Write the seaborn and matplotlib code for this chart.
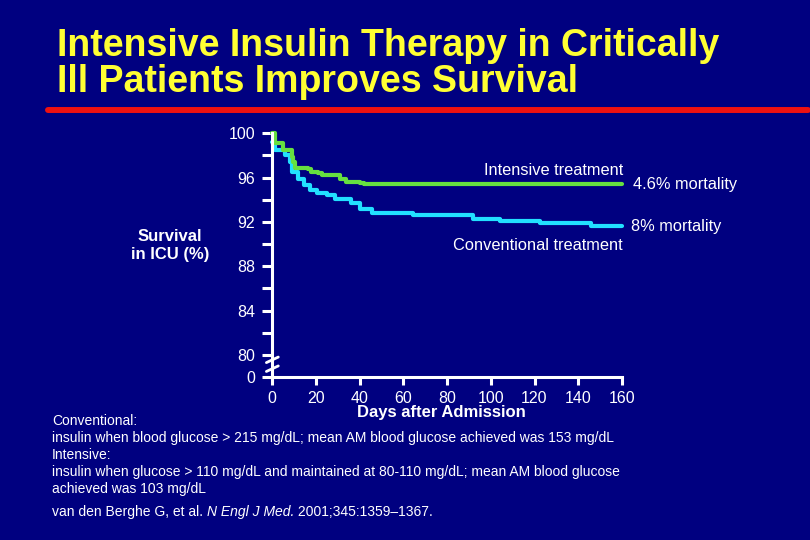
import numpy as np
import pandas as pd
import matplotlib
matplotlib.use("Agg")
import matplotlib.pyplot as plt
from matplotlib.lines import Line2D
import matplotlib.transforms as mtransforms
import seaborn as sns

# survival curves (days, % survival in ICU)
intensive_days = [0, 0.6, 1.4, 5, 9, 9.6, 10.5, 16.5, 18, 21, 22.7, 31, 34, 40, 42, 160]
intensive_surv = [100, 100, 99.1, 98.5, 97.9, 97.4, 96.9, 96.8, 96.5, 96.4, 96.2, 95.9, 95.6, 95.5, 95.4, 95.4]

conv_days = [0, 0.6, 1.4, 5.9, 8, 9, 12, 14.5, 17.5, 20.5, 25, 29, 36, 40, 45.5, 64.5, 92, 104, 122.5, 146, 160]
conv_surv = [99.2, 98.9, 98.5, 98.0, 97.4, 96.5, 95.9, 95.3, 94.9, 94.6, 94.4, 94.1, 93.7, 93.2, 92.8, 92.6,
             92.3, 92.1, 91.9, 91.65, 91.65]

x_ticks = [0, 20, 40, 60, 80, 100, 120, 140, 160]
y_major = [78, 80, 84, 88, 92, 96, 100]
y_labels = ["0", "80", "84", "88", "92", "96", "100"]
y_minor = [82, 86, 90, 94, 98]

footnotes = [
    "Conventional:",
    "insulin when blood glucose > 215 mg/dL; mean AM blood glucose achieved was 153 mg/dL",
    "Intensive:",
    "insulin when glucose > 110 mg/dL and maintained at 80-110 mg/dL; mean AM blood glucose",
    "achieved was 103 mg/dL",
]

BG = "#000080"
GREEN = "#66e040"
CYAN = "#22e0ff"
W, H = 810, 540

df = pd.concat([
    pd.DataFrame({"day": intensive_days, "surv": intensive_surv, "arm": "Intensive"}),
    pd.DataFrame({"day": conv_days, "surv": conv_surv, "arm": "Conventional"}),
])

sns.set_style("ticks")
plt.rcParams["font.family"] = ["Liberation Sans", "DejaVu Sans"]

fig = plt.figure(figsize=(8.1, 5.4), dpi=100, facecolor=BG)

def fx(px):
    return px / W

def fy(py):
    return 1 - py / H

ax = fig.add_axes([fx(272), fy(377), fx(622) - fx(272), fy(133.3) - fy(377)])
ax.set_facecolor(BG)

sns.lineplot(data=df, x="day", y="surv", hue="arm", palette={"Intensive": GREEN, "Conventional": CYAN},
             hue_order=["Conventional", "Intensive"], drawstyle="steps-post", linewidth=3.0,
             legend=False, ax=ax, clip_on=False)

ax.set_xlim(0, 160)
ax.set_ylim(78, 100)
ax.set_xticks(x_ticks)
ax.set_xticklabels([str(t) for t in x_ticks])
ax.set_yticks(y_major)
ax.set_yticklabels(y_labels)
ax.set_yticks(y_minor, minor=True)
ax.set_xlabel("")
ax.set_ylabel("")

for s in ["top", "right"]:
    ax.spines[s].set_visible(False)
for s in ["left", "bottom"]:
    ax.spines[s].set_color("white")
    ax.spines[s].set_linewidth(2.2)

ax.tick_params(axis="both", which="both", colors="white", width=2.2, direction="out")
ax.tick_params(axis="y", which="both", length=7.5, pad=4.5, labelsize=11.5)
ax.tick_params(axis="x", which="major", length=6, pad=4, labelsize=11.5)

# axis break marks
trans = mtransforms.blended_transform_factory(ax.transAxes, ax.transData)
for y0, y1 in [(79.3, 79.8), (78.5, 79.0)]:
    ax.add_line(Line2D([-0.016, 0.018], [y0, y1], transform=trans, color="white", lw=2.0, clip_on=False))

# curve annotations
fig.text(fx(623), fy(170), "Intensive treatment", color="white", fontsize=11.8, ha="right", va="center")
fig.text(fx(633), fy(184), "4.6% mortality", color="white", fontsize=11.8, ha="left", va="center")
fig.text(fx(631), fy(226), "8% mortality", color="white", fontsize=11.8, ha="left", va="center")
fig.text(fx(623), fy(246), "Conventional treatment", color="white", fontsize=11.8, ha="right", va="center")

fig.text(fx(170), fy(246), "Survival\nin ICU (%)", color="white", fontsize=12, fontweight="bold",
         ha="center", va="center", linespacing=1.25)
fig.text(fx(441), fy(412), "Days after Admission", color="white", fontsize=12, fontweight="bold",
         ha="center", va="center")

# title and red rule
fig.text(fx(57), fy(56), "Intensive Insulin Therapy in Critically", color="#ffff33", fontsize=27,
         fontweight="bold", ha="left", va="baseline")
fig.text(fx(57), fy(92), "Ill Patients Improves Survival", color="#ffff33", fontsize=27,
         fontweight="bold", ha="left", va="baseline")
fig.add_artist(Line2D([fx(48), fx(808)], [fy(110), fy(110)], color="#ee1111", lw=4.3,
                      transform=fig.transFigure))

# footnotes
for i, line in enumerate(footnotes):
    fig.text(fx(52), fy(421 + 17 * i), line, color="white", fontsize=10, ha="left", va="center")

# citation with italic journal name
fig.canvas.draw()
renderer = fig.canvas.get_renderer()
parts = [("van den Berghe G, et al. ", "normal"), ("N Engl J Med.", "italic"), (" 2001;345:1359\u20131367.", "normal")]
xpos = fx(52)
for txt, style in parts:
    t = fig.text(xpos, fy(512), txt, color="white", fontsize=10, style=style, ha="left", va="center")
    bb = t.get_window_extent(renderer)
    xpos += bb.width / fig.bbox.width

fig.savefig("out.png", dpi=100, facecolor=BG)
